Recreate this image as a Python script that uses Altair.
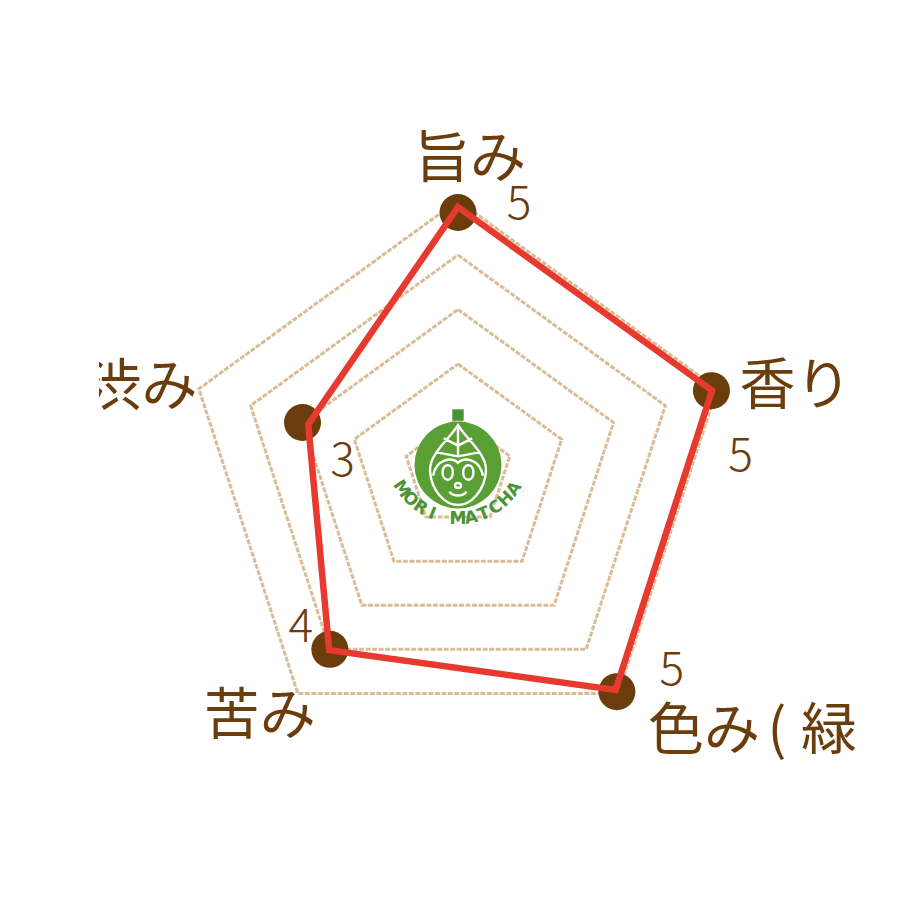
import math
import altair as alt
import pandas as pd

axes = ["旨み", "香り", "色み( 緑", "苦み", "渋み"]
name_parts = [["旨み"], ["香り"], ["色み", "(", "緑"], ["苦み"], ["渋み"]]
scores = [5, 5, 5, 4, 3]
line_values = [4.88, 4.90, 4.92, 4.02, 2.89]
dot_values = [4.78, 4.89, 4.96, 4.00, 3.00]
ring_levels = [5, 4, 3, 2, 1]
logo_letters = list("MORI MATCHA")

BROWN = "#6b3d0c"
RED = "#e8392e"
TAN = "#d9bd98"
GREEN = "#5a9f33"
DGREEN = "#4a9435"
FONT = "Noto Sans CJK JP"
UNIT = 54.5
W, H = 904, 904
CX, CY = 450, 465

xs = alt.Scale(domain=[-CX / UNIT, (W - CX) / UNIT], nice=False, zero=False)
ys = alt.Scale(domain=[-(H - CY) / UNIT, CY / UNIT], nice=False, zero=False)
X = lambda f="x": alt.X(f"{f}:Q", scale=xs, axis=None)
Y = lambda f="y": alt.Y(f"{f}:Q", scale=ys, axis=None)


def pol(v, i):
    t = 2 * math.pi * i / len(axes)
    return v * math.sin(t), v * math.cos(t)


def closed(values):
    rows = []
    for k, v in enumerate(list(values) + [values[0]]):
        x, y = pol(v, k)
        rows.append({"x": x, "y": y, "o": k})
    return pd.DataFrame(rows)


layers = []
for lvl in ring_levels:
    layers.append(
        alt.Chart(closed([lvl] * 5)).mark_line(color=TAN, strokeWidth=3, strokeDash=[5, 1.5])
        .encode(x=X(), y=Y(), order="o:Q")
    )

# logo
LX, LY = 0, 8 / UNIT
logo_df = pd.DataFrame({"x": [LX], "y": [LY]})
layers.append(
    alt.Chart(logo_df).mark_point(shape="circle", filled=True, color=GREEN, opacity=1, size=7569)
    .encode(x=X(), y=Y())
)
leaf = ("M0,-0.93 C-0.2,-0.6 -0.68,-0.25 -0.65,0.15 C-0.62,0.6 -0.3,0.93 0,0.93 "
        "C0.3,0.93 0.62,0.6 0.65,0.15 C0.68,-0.25 0.2,-0.6 0,-0.93 Z "
        "M0,-0.93 L0,-0.2 M0,-0.45 L-0.33,-0.62 M0,-0.45 L0.33,-0.62 "
        "M0,-0.2 L-0.52,-0.3 M0,-0.2 L0.52,-0.3 "
        "M-0.58,0.25 C-0.5,-0.15 -0.12,-0.2 0,-0.05 C0.12,-0.2 0.5,-0.15 0.58,0.25 "
        "M-0.36,0.17 C-0.36,-0.05 -0.12,-0.05 -0.12,0.17 C-0.12,0.4 -0.36,0.4 -0.36,0.17 Z "
        "M0.12,0.17 C0.12,-0.05 0.36,-0.05 0.36,0.17 C0.36,0.4 0.12,0.4 0.12,0.17 Z "
        "M-0.2,0.62 C-0.1,0.74 0.1,0.74 0.2,0.62 "
        "M-0.07,0.48 C-0.07,0.4 0.07,0.4 0.07,0.48 C0.07,0.55 -0.07,0.55 -0.07,0.48 Z")
layers.append(
    alt.Chart(logo_df).mark_point(shape=leaf, filled=False, stroke="white", strokeWidth=2.4, opacity=1, size=7396)
    .encode(x=X(), y=Y())
)
layers.append(
    alt.Chart(pd.DataFrame({"x": [0], "y": [(473 - 415) / UNIT]})).mark_point(
        shape="square", filled=True, color=DGREEN, opacity=1, size=130
    ).encode(x=X(), y=Y())
)
n = len(logo_letters)
for i, ch in enumerate(logo_letters):
    a = 56 - i * 112 / (n - 1)
    r = a * math.pi / 180
    lx = -68 * math.sin(r) / UNIT
    ly = (473 - 451 - 68 * math.cos(r)) / UNIT
    layers.append(
        alt.Chart(pd.DataFrame({"x": [lx], "y": [ly], "t": [ch]}))
        .mark_text(font="DejaVu Sans", fontWeight="bold", fontSize=17, color=DGREEN, angle=a % 360, align="center", baseline="middle")
        .encode(x=X(), y=Y(), text="t:N")
    )

# dots
dot_rows = [dict(zip("xy", pol(v, i))) for i, v in enumerate(dot_values)]
layers.append(
    alt.Chart(pd.DataFrame(dot_rows)).mark_point(shape="circle", filled=True, color=BROWN, opacity=1, size=1369)
    .encode(x=X(), y=Y())
)

# red polygon
layers.append(
    alt.Chart(closed(line_values)).mark_line(color=RED, strokeWidth=6.5, strokeJoin="miter", strokeCap="square")
    .encode(x=X(), y=Y(), order="o:Q")
)

# axis names, offset from their vertex
name_offsets = [[(12, -52)], [(84, -4)], [(87, 40), (160, 40), (212, 40)], [(-70, 68)], [(-161, -34)]]
for i, (parts, offs) in enumerate(zip(name_parts, name_offsets)):
    x, y = pol(dot_values[i], i)
    for part, (dx, dy) in zip(parts, offs):
        layers.append(
            alt.Chart(pd.DataFrame({"x": [x], "y": [y], "t": [part]}))
            .mark_text(font=FONT, fontSize=56, fontWeight=400, color=BROWN, align="center", baseline="middle", dx=dx, dy=dy)
            .encode(x=X(), y=Y(), text="t:N")
        )

# the reference's glyph is cut on its left edge
layers.append(
    alt.Chart(pd.DataFrame({"a": [0]})).mark_rect(color="white", opacity=1)
    .encode(x=alt.value(60), x2=alt.value(91), y=alt.value(335), y2=alt.value(415))
)

# score numbers, offset from their vertex
num_offsets = [(61, -7), (29, 66), (55, -21), (-29, -21), (40, 40)]
for i, (s, (dx, dy)) in enumerate(zip(scores, num_offsets)):
    x, y = pol(dot_values[i], i)
    layers.append(
        alt.Chart(pd.DataFrame({"x": [x], "y": [y], "t": [str(s)]}))
        .mark_text(font=FONT, fontSize=46, fontWeight=300, color=BROWN, align="center", baseline="middle", dx=dx, dy=dy)
        .encode(x=X(), y=Y(), text="t:N")
    )

chart = alt.layer(*layers).properties(
    width=W, height=H, padding=0, autosize=alt.AutoSizeParams(type="none"), background="white"
).configure_view(stroke=None)

chart.save("out.html", embed_options={"renderer": "svg", "actions": False})
